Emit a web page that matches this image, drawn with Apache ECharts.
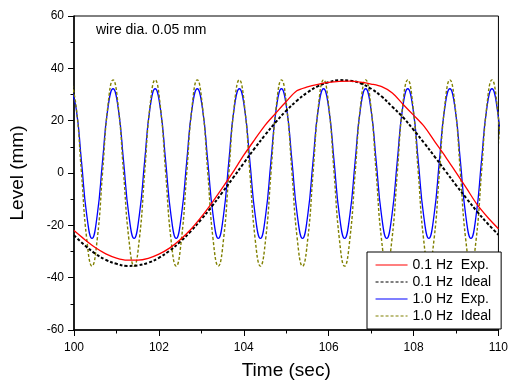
<!DOCTYPE html>
<html>
<head>
<meta charset="utf-8">
<script src="https://cdn.jsdelivr.net/npm/echarts@6/dist/echarts.min.js"></script>
<style>
html,body{margin:0;padding:0;background:#fff;}
#chart{width:511px;height:385px;}
</style>
</head>
<body>
<div id="chart"></div>
<script>
// 0.1 Hz series (sampled every 0.25 s)
const times01 = [100,100.25,100.5,100.75,101,101.25,101.5,101.75,102,102.25,102.5,102.75,103,103.25,103.5,103.75,104,104.25,104.5,104.75,105,105.25,105.5,105.75,106,106.25,106.5,106.75,107,107.25,107.5,107.75,108,108.25,108.5,108.75,109,109.25,109.5,109.75,110];
const exp01 = [-22.0,-25.4,-28.5,-30.9,-32.5,-33.3,-33.3,-32.6,-31.0,-28.7,-25.5,-21.6,-16.8,-11.4,-5.6,0.4,6.8,12.6,18.2,22.8,27.3,31.4,32.9,33.9,34.6,35.0,35.1,34.7,34.0,33.0,30.6,26.3,22.1,17.8,12.0,6.3,0.2,-5.9,-12.1,-17.0,-21.3];
const ideal01 = [-23.8,-27.6,-30.8,-33.2,-34.7,-35.5,-35.3,-34.3,-32.4,-29.7,-26.3,-22.3,-17.7,-12.7,-7.3,-1.8,3.8,9.3,14.5,19.4,23.8,27.6,30.8,33.2,34.7,35.5,35.3,34.3,32.2,29.2,25.3,21.3,16.5,11.5,6.2,0.8,-4.6,-9.8,-14.8,-19.4,-23.6];

// 1.0 Hz series
const times1 = [99.928,100.052,100.176,100.300,100.424,100.548,100.672,100.796,
100.920,101.044,101.168,101.292,101.416,101.540,101.664,101.788,
101.912,102.036,102.160,102.284,102.408,102.532,102.656,102.780,
102.904,103.028,103.152,103.276,103.400,103.524,103.648,103.772,
103.896,104.020,104.144,104.268,104.392,104.516,104.640,104.764,
104.888,105.012,105.136,105.260,105.384,105.508,105.632,105.756,
105.880,106.004,106.128,106.252,106.376,106.500,106.624,106.748,
106.872,106.996,107.120,107.244,107.368,107.492,107.616,107.740,
107.864,107.988,108.112,108.236,108.360,108.484,108.608,108.732,
108.856,108.980,109.104,109.228,109.352,109.476,109.600,109.724,
109.848,109.972,110.096];
const exp1 = [32.2,24.5,4.5,-16,-25,-16,4.5,24.5,
32.2,24.5,4.5,-16,-25,-16,4.5,24.5,
32.2,24.5,4.5,-16,-25,-16,4.5,24.5,
32.2,24.5,4.5,-16,-25,-16,4.5,24.5,
32.2,24.5,4.5,-16,-25,-16,4.5,24.5,
32.2,24.5,4.5,-16,-25,-16,4.5,24.5,
32.2,24.5,4.5,-16,-25,-16,4.5,24.5,
32.2,24.5,4.5,-16,-25,-16,4.5,24.5,
32.2,24.5,4.5,-16,-25,-16,4.5,24.5,
32.2,24.5,4.5,-16,-25,-16,4.5,24.5,
32.2,24.5,4.5];
const ideal1 = [35.6,25.2,0,-25.2,-35.6,-25.2,0,25.2,
35.6,25.2,0,-25.2,-35.6,-25.2,0,25.2,
35.6,25.2,0,-25.2,-35.6,-25.2,0,25.2,
35.6,25.2,0,-25.2,-35.6,-25.2,0,25.2,
35.6,25.2,0,-25.2,-35.6,-25.2,0,25.2,
35.6,25.2,0,-25.2,-35.6,-25.2,0,25.2,
35.6,25.2,0,-25.2,-35.6,-25.2,0,25.2,
35.6,25.2,0,-25.2,-35.6,-25.2,0,25.2,
35.6,25.2,0,-25.2,-35.6,-25.2,0,25.2,
35.6,25.2,0,-25.2,-35.6,-25.2,0,25.2,
35.6,25.2,0];

const seriesNames = ['0.1 Hz  Exp.','0.1 Hz  Ideal','1.0 Hz  Exp.','1.0 Hz  Ideal'];
const annotation = 'wire dia. 0.05 mm';

function zip(t, v){ return t.map((x,i)=>[x, v[i]]); }

const FONT = "'Liberation Sans', Arial, sans-serif";
const chart = echarts.init(document.getElementById('chart'), null, {renderer:'canvas'});
chart.setOption({
  animation:false,
  backgroundColor:'#fff',
  grid:{left:73,right:10,top:16,bottom:54,show:true,borderColor:'#000',borderWidth:1,backgroundColor:'transparent'},
  xAxis:{
    type:'value',min:100,max:110,interval:2,
    name:'Time (sec)',nameLocation:'middle',nameGap:31,
    nameTextStyle:{fontFamily:FONT,fontSize:19,color:'#000'},
    axisLine:{show:true,onZero:false,lineStyle:{color:'#000',width:1.5}},
    axisTick:{show:true,inside:false,length:6,lineStyle:{color:'#000',width:1}},
    minorTick:{show:true,splitNumber:2,length:3.5,lineStyle:{color:'#000',width:1}},
    axisLabel:{fontFamily:FONT,fontSize:12,color:'#000',margin:12},
    splitLine:{show:false}
  },
  yAxis:{
    type:'value',min:-60,max:60,interval:20,
    name:'Level (mm)',nameLocation:'middle',nameGap:47,
    nameTextStyle:{fontFamily:FONT,fontSize:19,color:'#000'},
    axisLine:{show:true,onZero:false,lineStyle:{color:'#000',width:1.5}},
    axisTick:{show:true,inside:false,length:6,lineStyle:{color:'#000',width:1}},
    minorTick:{show:true,splitNumber:2,length:3.5,lineStyle:{color:'#000',width:1}},
    axisLabel:{fontFamily:FONT,fontSize:12,color:'#000',margin:10},
    splitLine:{show:false}
  },
  legend:{
    orient:'vertical',left:367,top:252,
    data:seriesNames,
    backgroundColor:'#fff',borderColor:'#000',borderWidth:1,
    padding:[6,10,6,8],
    itemWidth:32,itemHeight:14,itemGap:3,
    itemStyle:{opacity:0},
    lineStyle:{width:1.1},
    textStyle:{fontFamily:FONT,fontSize:14,color:'#000'}
  },
  graphic:[{
    type:'text',left:96,top:23,
    style:{text:annotation,font:"14px 'Liberation Sans', Arial, sans-serif",fill:'#000'}
  }],
  series:[
    {name:seriesNames[2],type:'line',data:zip(times1,exp1),symbol:'none',smooth:0.5,
     lineStyle:{color:'#0000ff',width:1.3},itemStyle:{color:'#0000ff'}},
    {name:seriesNames[3],type:'line',data:zip(times1,ideal1),symbol:'none',smooth:0.5,
     lineStyle:{color:'#808000',width:1.4,type:[3,2]},itemStyle:{color:'#808000'}},
    {name:seriesNames[1],type:'line',data:zip(times01,ideal01),symbol:'none',smooth:0.4,
     lineStyle:{color:'#000',width:2,type:[3,2]},itemStyle:{color:'#000'}},
    {name:seriesNames[0],type:'line',data:zip(times01,exp01),symbol:'none',smooth:0.3,
     lineStyle:{color:'#ff0000',width:1.3},itemStyle:{color:'#ff0000'}}
  ]
});
</script>
</body>
</html>
